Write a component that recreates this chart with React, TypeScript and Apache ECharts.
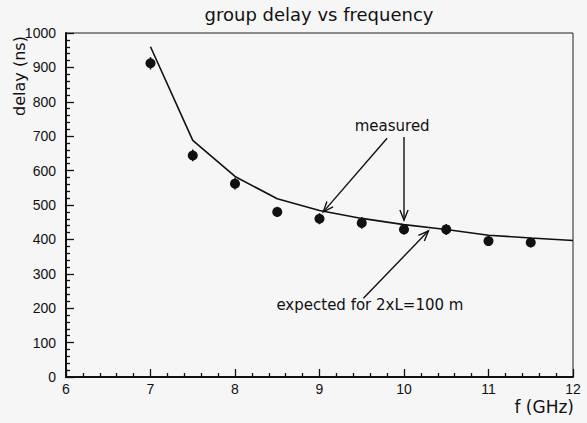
import React, { useEffect, useRef } from "react";
import * as echarts from "echarts";

const freq = [7, 7.5, 8, 8.5, 9, 9.5, 10, 10.5, 11, 11.5];
const measured = [912, 644, 562, 480, 460, 448, 429, 429, 395, 391];
const measuredErr = [18, 17, 17, 15, 16, 17, 15, 16, 14, 14];
const expectedFreq = [7, 7.5, 8, 8.5, 9, 9.5, 10, 10.5, 11, 11.5, 12];
const expected = [960, 688, 583, 518, 484, 461, 443, 429, 412, 404, 397];

// arrows: [fromF, fromDelay, toF, toDelay]
const arrows = [
  [9.8, 694, 9.045, 480],
  [10.0, 698, 10.0, 456],
  [9.52, 229, 10.29, 425],
];
const labelText = ["measured", "expected for 2xL=100 m"];
const labelPos = [
  [9.86, 730],
  [8.49, 209],
];
const labelAlign = ["center", "left"];

const FONT = "DejaVu Sans";
const TICKFONT = "Liberation Sans";

export default function App() {
  const ref = useRef<HTMLDivElement>(null);
  useEffect(() => {
    document.body.style.margin = "0";
    document.body.style.background = "#f6f6f6";
    const chart = echarts.init(ref.current!, null, { renderer: "svg" });
    const option: any = {
      animation: false,
      backgroundColor: "#f6f6f6",
      textStyle: { fontFamily: FONT },
      grid: {
        left: 66,
        top: 33,
        right: 14,
        bottom: 46,
        show: true,
        borderColor: "#222",
        borderWidth: 1,
        backgroundColor: "transparent",
      },
      xAxis: {
        type: "value",
        min: 6,
        max: 12,
        interval: 1,
        axisLine: { show: true, onZero: false, lineStyle: { color: "#111", width: 2 } },
        axisTick: { show: true, inside: true, length: 8, lineStyle: { color: "#111", width: 1.3 } },
        minorTick: { show: true, splitNumber: 5, length: 4, lineStyle: { color: "#111", width: 1.3 } },
        splitLine: { show: false },
        axisLabel: { color: "#111", fontSize: 14, fontFamily: TICKFONT, margin: 5 },
      },
      yAxis: {
        type: "value",
        min: 0,
        max: 1000,
        interval: 100,
        axisLine: { show: true, onZero: false, lineStyle: { color: "#111", width: 2 } },
        axisTick: { show: true, inside: true, length: 8, lineStyle: { color: "#111", width: 1.3 } },
        minorTick: { show: true, splitNumber: 5, length: 4, lineStyle: { color: "#111", width: 1.3 } },
        splitLine: { show: false },
        axisLabel: {
          color: "#111",
          fontSize: 14,
          fontFamily: TICKFONT,
          margin: 10,
          formatter: (v: number) => String(v),
        },
      },
      graphic: [
        {
          type: "text",
          x: 319,
          y: 14,
          style: {
            text: "group delay vs frequency",
            fill: "#111",
            fontSize: 18,
            fontFamily: FONT,
            align: "center",
            verticalAlign: "middle",
          },
        },
        {
          type: "text",
          x: 19,
          y: 76,
          rotation: Math.PI / 2,
          style: {
            text: "delay (ns)",
            fill: "#111",
            fontSize: 16,
            fontFamily: FONT,
            align: "center",
            verticalAlign: "middle",
          },
        },
        {
          type: "text",
          x: 574,
          y: 407,
          style: {
            text: "f (GHz)",
            fill: "#111",
            fontSize: 17,
            fontFamily: FONT,
            align: "right",
            verticalAlign: "middle",
          },
        },
      ],
      series: [
        {
          type: "line",
          data: expectedFreq.map((f, i) => [f, expected[i]]),
          symbol: "none",
          lineStyle: { color: "#111", width: 1.6 },
          z: 3,
        },
        {
          type: "custom",
          data: freq.map((f, i) => [f, measured[i] - measuredErr[i], measured[i] + measuredErr[i]]),
          encode: { x: 0, y: [1, 2] },
          renderItem: (params: any, api: any) => {
            const a = api.coord([api.value(0), api.value(1)]);
            const b = api.coord([api.value(0), api.value(2)]);
            return {
              type: "line",
              shape: { x1: a[0], y1: a[1], x2: b[0], y2: b[1] },
              style: { stroke: "#111", lineWidth: 1.5 },
            };
          },
          z: 4,
        },
        {
          type: "scatter",
          data: freq.map((f, i) => [f, measured[i]]),
          symbol: "circle",
          symbolSize: 10,
          itemStyle: { color: "#111", opacity: 1 },
          z: 5,
        },
        {
          type: "custom",
          data: arrows,
          encode: { x: [0, 2], y: [1, 3] },
          renderItem: (params: any, api: any) => {
            const p1 = api.coord([api.value(0), api.value(1)]);
            const p2 = api.coord([api.value(2), api.value(3)]);
            const ang = Math.atan2(p2[1] - p1[1], p2[0] - p1[0]);
            const L = 11;
            const s = 0.38;
            const h1 = [p2[0] - L * Math.cos(ang - s), p2[1] - L * Math.sin(ang - s)];
            const h2 = [p2[0] - L * Math.cos(ang + s), p2[1] - L * Math.sin(ang + s)];
            return {
              type: "group",
              children: [
                {
                  type: "line",
                  shape: { x1: p1[0], y1: p1[1], x2: p2[0], y2: p2[1] },
                  style: { stroke: "#111", lineWidth: 1.4 },
                },
                {
                  type: "polyline",
                  shape: { points: [h1, p2, h2] },
                  style: { stroke: "#111", fill: "none", lineWidth: 1.4 },
                },
              ],
            };
          },
          z: 6,
        },
        {
          type: "custom",
          data: labelPos.map((p, i) => [p[0], p[1], i]),
          encode: { x: 0, y: 1 },
          renderItem: (params: any, api: any) => {
            const p = api.coord([api.value(0), api.value(1)]);
            const idx = api.value(2);
            return {
              type: "text",
              x: p[0],
              y: p[1],
              style: {
                text: labelText[idx],
                fill: "#111",
                fontSize: 15,
                fontFamily: FONT,
                align: labelAlign[idx],
                verticalAlign: "middle",
              },
            };
          },
          z: 6,
        },
      ],
    };
    chart.setOption(option);
    return () => chart.dispose();
  }, []);
  return <div ref={ref} style={{ width: 587, height: 423 }} />;
}
